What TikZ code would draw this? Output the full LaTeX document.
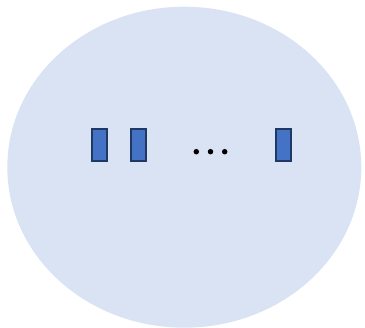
\documentclass[tikz,border=0pt]{standalone}
\usepackage{tikz}
\usetikzlibrary{positioning,shapes.geometric}

\definecolor{cellfill}{HTML}{DAE3F3}
\definecolor{boxfill}{HTML}{4472C4}
\definecolor{boxline}{HTML}{1F3864}

\begin{document}
\begin{tikzpicture}[
  x=1pt, y=-1pt,
  cellv/.style={ellipse, fill=cellfill, draw=none, inner sep=0pt, minimum width=354pt, minimum height=321pt},
  slotv/.style={rectangle, draw=boxline, line width=2pt, fill=boxfill, inner sep=0pt, minimum width=15.5pt, minimum height=32pt},
  dotv/.style={circle, fill=black, inner sep=0pt, minimum size=5.5pt}
]
\useasboundingbox (0,0) rectangle (365,328);

\node[cellv] (cell) at (184.3, 167.2) {};
\node[slotv] (s1) at (99.5, 144.8) {};
\node[slotv] (s2) at (138.5, 144.8) {};
\node[slotv] (sn) at (283.5, 144.8) {};
\node[dotv] (d1) at (196.3, 151.7) {};
\node[dotv] (d2) at (210.5, 151.7) {};
\node[dotv] (d3) at (224.7, 151.7) {};

\end{tikzpicture}
\end{document}
